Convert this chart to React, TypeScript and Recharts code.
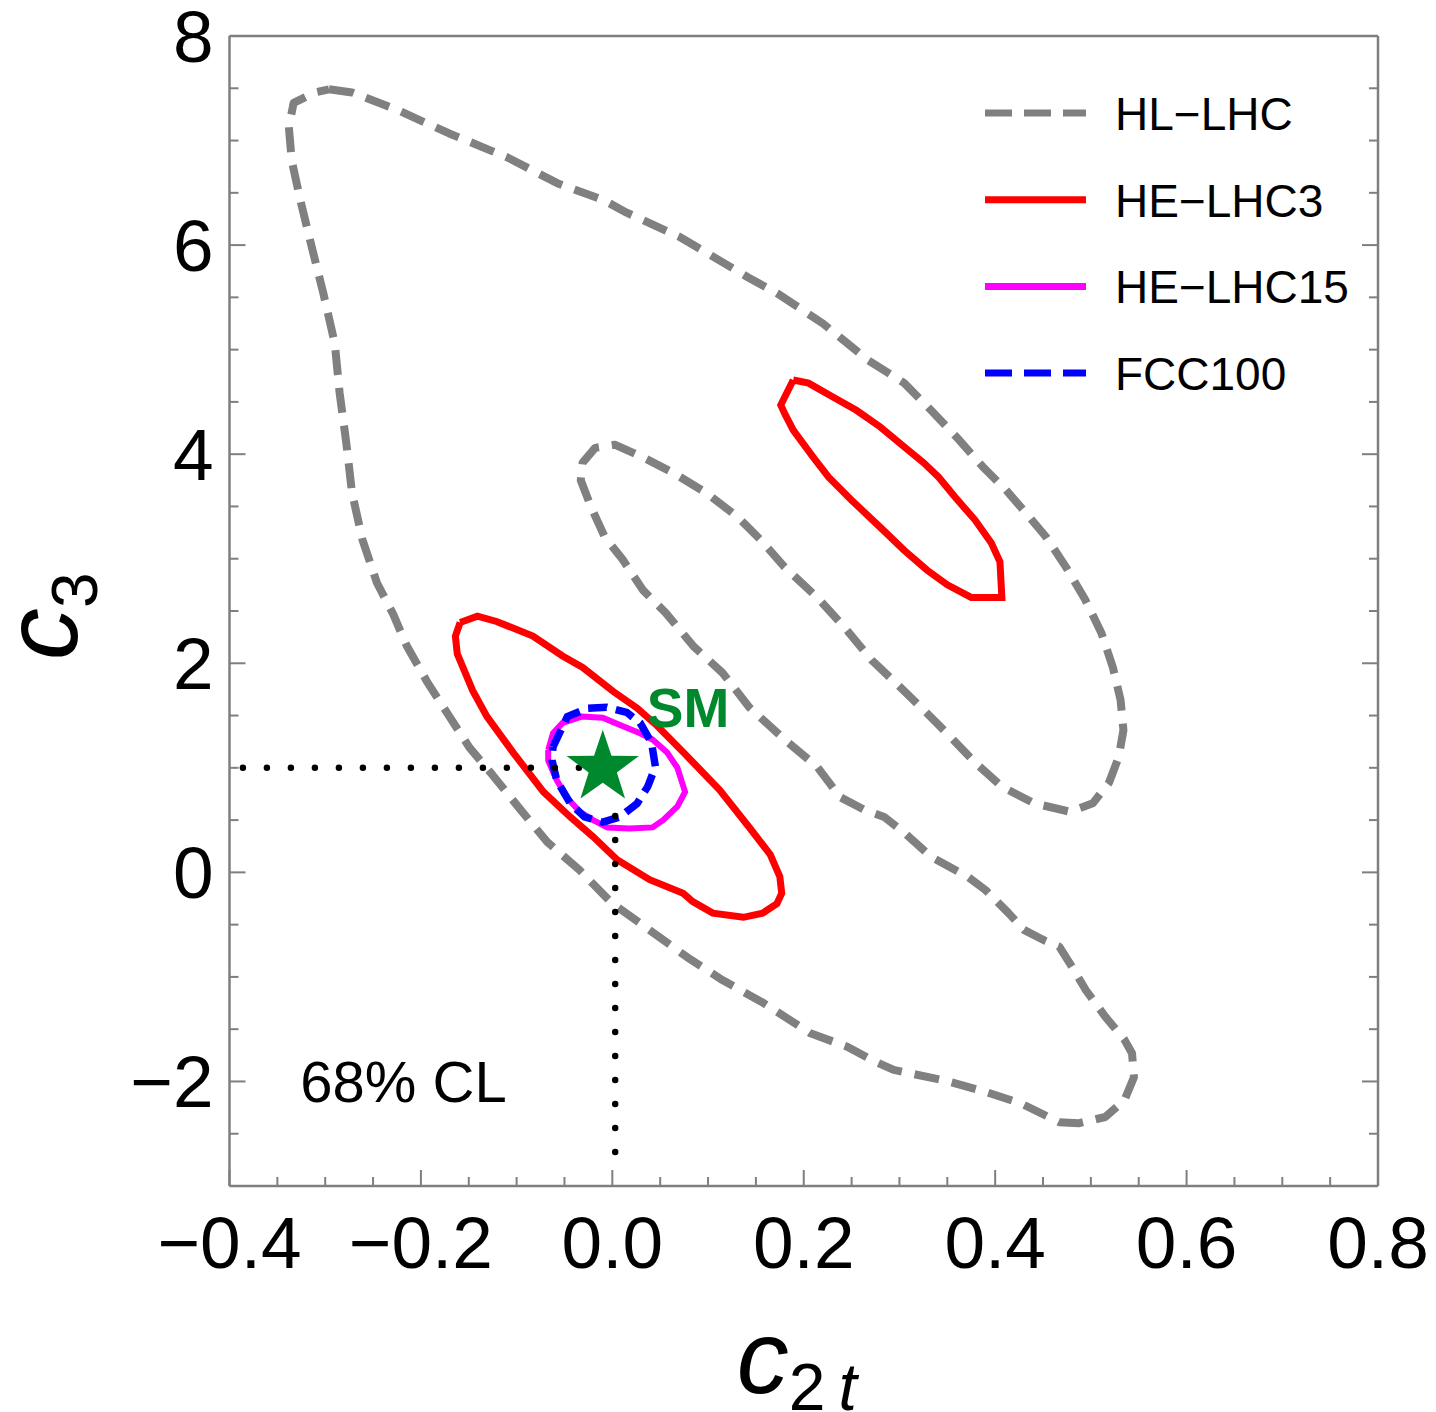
import { ComposedChart, Line, Scatter, XAxis, YAxis, Legend, ReferenceDot, Label } from 'recharts';

const FONT = '"Liberation Sans", Arial, Helvetica, sans-serif';
const FRAME = '#7f7f7f';
const GRAY = '#808080';
const RED = '#ff0000';
const MAGENTA = '#ff00ff';
const BLUE = '#0000ff';
const GREEN = '#00882c';

// axis ticks (labelled majors; minors drawn every 0.05 / 0.5)
const xMajorTicks = [-0.4, -0.2, 0, 0.2, 0.4, 0.6, 0.8];
const yMajorTicks = [-2, 0, 2, 4, 6, 8];
const xTicks = Array.from({ length: 25 }, (_, i) => Math.round((-0.4 + i * 0.05) * 100) / 100);
const yTicks = Array.from({ length: 23 }, (_, i) => -3 + i * 0.5);

// 68% CL contours in the (c2t, c3) plane
const hlLhc: [number, number][] = [
  [-0.296, 7.49], [-0.272, 7.46], [-0.224, 7.29], [-0.171, 7.07], [-0.11, 6.84], [-0.057, 6.59],
  [-0.009, 6.43], [0.015, 6.31], [0.07, 6.08], [0.142, 5.69], [0.172, 5.54], [0.22, 5.25],
  [0.267, 4.9], [0.305, 4.68], [0.333, 4.42], [0.362, 4.14], [0.387, 3.88], [0.411, 3.66],
  [0.432, 3.44], [0.453, 3.21], [0.474, 2.92], [0.494, 2.61], [0.511, 2.29], [0.523, 1.96],
  [0.531, 1.65], [0.534, 1.36], [0.529, 1.1], [0.519, 0.86], [0.502, 0.66], [0.478, 0.58],
  [0.441, 0.66], [0.407, 0.82], [0.379, 1.05], [0.354, 1.29], [0.329, 1.52], [0.301, 1.77],
  [0.271, 2.03], [0.242, 2.35], [0.214, 2.63], [0.18, 2.92], [0.155, 3.18], [0.131, 3.4],
  [0.098, 3.63], [0.064, 3.82], [0.032, 3.97], [0.003, 4.09], [-0.018, 4.06], [-0.031, 3.92],
  [-0.033, 3.75], [-0.022, 3.49], [-0.008, 3.21], [0.011, 2.99], [0.032, 2.7], [0.056, 2.48],
  [0.085, 2.16], [0.115, 1.91], [0.143, 1.58], [0.18, 1.27], [0.214, 1.01], [0.238, 0.72],
  [0.263, 0.6], [0.284, 0.53], [0.305, 0.38], [0.333, 0.15], [0.371, -0.04], [0.39, -0.17],
  [0.414, -0.39], [0.43, -0.55], [0.451, -0.65], [0.467, -0.71], [0.478, -0.87], [0.495, -1.13],
  [0.515, -1.38], [0.535, -1.6], [0.543, -1.73], [0.545, -1.96], [0.535, -2.18], [0.515, -2.34],
  [0.487, -2.4], [0.467, -2.39], [0.427, -2.21], [0.39, -2.1], [0.347, -1.99], [0.294, -1.89],
  [0.27, -1.79], [0.246, -1.67], [0.207, -1.54], [0.158, -1.25], [0.115, -1.03], [0.078, -0.81],
  [0.034, -0.52], [-0.001, -0.29], [-0.034, 0.02], [-0.068, 0.29], [-0.096, 0.6], [-0.125, 0.93],
  [-0.149, 1.19], [-0.173, 1.53], [-0.194, 1.83], [-0.215, 2.17], [-0.229, 2.47], [-0.246, 2.77],
  [-0.261, 3.18], [-0.272, 3.63], [-0.278, 4.11], [-0.285, 4.59], [-0.29, 5.06], [-0.302, 5.54],
  [-0.314, 5.98], [-0.326, 6.43], [-0.335, 6.81], [-0.338, 7.13], [-0.333, 7.36], [-0.311, 7.46],
  [-0.296, 7.49],
];

const heLhc3Low: [number, number][] = [
  [-0.159, 2.39], [-0.141, 2.45], [-0.121, 2.4], [-0.083, 2.26], [-0.052, 2.07], [-0.031, 1.96],
  [0.001, 1.73], [0.026, 1.57], [0.047, 1.4], [0.074, 1.15], [0.112, 0.79], [0.144, 0.42],
  [0.165, 0.17], [0.175, -0.04], [0.177, -0.2], [0.172, -0.3], [0.157, -0.39], [0.137, -0.43],
  [0.105, -0.39], [0.084, -0.28], [0.074, -0.2], [0.039, -0.07], [0.005, 0.12], [-0.02, 0.34],
  [-0.044, 0.53], [-0.072, 0.77], [-0.104, 1.15], [-0.131, 1.49], [-0.146, 1.74], [-0.162, 2.09],
  [-0.164, 2.26], [-0.159, 2.39],
];

const heLhc3High: [number, number][] = [
  [0.189, 4.71], [0.205, 4.68], [0.23, 4.55], [0.255, 4.42], [0.28, 4.26], [0.305, 4.07],
  [0.325, 3.92], [0.341, 3.78], [0.358, 3.59], [0.379, 3.37], [0.396, 3.15], [0.405, 2.97],
  [0.407, 2.63], [0.375, 2.63], [0.35, 2.75], [0.329, 2.89], [0.305, 3.08], [0.28, 3.3],
  [0.25, 3.56], [0.226, 3.78], [0.21, 3.97], [0.189, 4.23], [0.18, 4.39], [0.176, 4.47],
  [0.189, 4.71],
];

const heLhc15: [number, number][] = [
  [-0.067, 1.17], [-0.062, 1.33], [-0.052, 1.43], [-0.032, 1.49], [-0.01, 1.48], [0.008, 1.41],
  [0.029, 1.33], [0.042, 1.27], [0.057, 1.15], [0.068, 1.0], [0.076, 0.77], [0.068, 0.63],
  [0.053, 0.5], [0.042, 0.43], [0.018, 0.42], [-0.005, 0.43], [-0.02, 0.5], [-0.034, 0.58],
  [-0.047, 0.71], [-0.058, 0.88], [-0.067, 1.07], [-0.067, 1.17],
];

const fcc100: [number, number][] = [
  [-0.062, 1.2], [-0.047, 1.49], [-0.026, 1.57], [-0.006, 1.58], [0.015, 1.53], [0.029, 1.43],
  [0.041, 1.24], [0.045, 1.01], [0.037, 0.82], [0.026, 0.66], [0.008, 0.53], [-0.01, 0.48],
  [-0.029, 0.53], [-0.044, 0.66], [-0.058, 0.88], [-0.063, 1.07], [-0.062, 1.2],
];

// Standard Model point and the dotted guides to the axes
const smPoint: [number, number][] = [[-0.01, 1.0]];
const guideH: [number, number][] = [[-0.386, 1.0], [-0.01, 1.0]];
const guideV: [number, number][] = [[0.003, 0.54], [0.003, -2.68]];

const toRows = (pts: [number, number][]) => pts.map(([x, y]) => ({ x, y }));
const heLhc3Rows = [...toRows(heLhc3Low), { x: 0.2, y: null }, ...toRows(heLhc3High)];

const legendItems = [
  { name: 'HL−LHC', color: GRAY, dash: '27 12' },
  { name: 'HE−LHC3', color: RED, dash: undefined },
  { name: 'HE−LHC15', color: MAGENTA, dash: undefined },
  { name: 'FCC100', color: BLUE, dash: '27 12' },
];

const isMajor = (v: number, majors: number[]) => majors.some((m) => Math.abs(m - v) < 1e-6);
const fmtX = (v: number) => v.toFixed(1).replace('-', '\u2212');
const fmtY = (v: number) => String(v).replace('-', '\u2212');

type Side = 'bottom' | 'top' | 'left' | 'right';

const renderTick = (side: Side) => (props: any) => {
  const { x, y, payload } = props;
  const v = payload.value as number;
  const horizontal = side === 'bottom' || side === 'top';
  const major = isMajor(v, horizontal ? xMajorTicks : yMajorTicks);
  const len = major ? 16 : 9;
  let coords;
  if (side === 'bottom') coords = { x1: x, x2: x, y1: y, y2: y - len };
  else if (side === 'top') coords = { x1: x, x2: x, y1: y, y2: y + len };
  else if (side === 'left') coords = { x1: x, x2: x + len, y1: y, y2: y };
  else coords = { x1: x, x2: x - len, y1: y, y2: y };
  return (
    <g>
      <line {...coords} stroke={FRAME} strokeWidth={2} />
      {major && side === 'bottom' && (
        <text x={x} y={y + 82} textAnchor="middle" fontSize={73} fontFamily={FONT} fill="#000">
          {fmtX(v)}
        </text>
      )}
      {major && side === 'left' && (
        <text x={x - 16} y={y + 26} textAnchor="end" fontSize={73} fontFamily={FONT} fill="#000">
          {fmtY(v)}
        </text>
      )}
    </g>
  );
};

const XTitle = (props: any) => {
  const { x, y, width } = props.viewBox;
  return (
    <text x={x + width / 2 - 67} y={y + 207} fontFamily={FONT} fill="#000">
      <tspan fontSize={104} fontStyle="italic">c</tspan>
      <tspan fontSize={66} dy={17}>2</tspan>
      <tspan fontSize={66} fontStyle="italic" dx={13}>t</tspan>
    </text>
  );
};

const YTitle = (props: any) => {
  const { y } = props.viewBox;
  const tx = 69;
  const ty = y + 624;
  return (
    <text x={tx} y={ty} transform={`rotate(-90 ${tx} ${ty})`} fontFamily={FONT} fill="#000">
      <tspan fontSize={104} fontStyle="italic">c</tspan>
      <tspan fontSize={64} dy={20}>3</tspan>
    </text>
  );
};

const StarShape = (props: any) => {
  const { cx, cy } = props;
  const R = 38;
  const r = R * 0.39;
  const pts = Array.from({ length: 10 }, (_, i) => {
    const a = ((-90 + i * 36) * Math.PI) / 180;
    const rad = i % 2 === 0 ? R : r;
    return `${cx + rad * Math.cos(a)},${cy + rad * Math.sin(a)}`;
  }).join(' ');
  return (
    <g>
      <polygon points={pts} fill={GREEN} />
      <text x={cx + 44} y={cy - 41} fontSize={55} fontWeight="bold" fontFamily={FONT} fill={GREEN}>
        SM
      </text>
    </g>
  );
};

const CLText = (props: any) => (
  <text x={props.cx} y={props.cy + 21} fontSize={58} fontFamily={FONT} fill="#000">
    68% CL
  </text>
);

const renderLegend = () => (
  <svg width={420} height={330}>
    {legendItems.map((item, i) => {
      const cy = 22 + i * 86.7;
      return (
        <g key={item.name}>
          <line x1={0} x2={101} y1={cy} y2={cy} stroke={item.color} strokeWidth={7} strokeDasharray={item.dash} />
          <text x={130} y={cy + 17} fontSize={46} fontFamily={FONT} fill="#000">
            {item.name}
          </text>
        </g>
      );
    })}
  </svg>
);

export default function App() {
  return (
    <ComposedChart width={1420} height={1404} margin={{ top: 27, right: 49, bottom: 0, left: 0 }}>
      <XAxis
        type="number"
        dataKey="x"
        domain={[-0.4, 0.8]}
        ticks={xTicks}
        interval={0}
        allowDataOverflow
        height={226}
        tickSize={0}
        tickMargin={0}
        tickLine={false}
        axisLine={{ stroke: FRAME, strokeWidth: 2.5 }}
        tick={renderTick('bottom')}
      >
        <Label content={XTitle} />
      </XAxis>
      <XAxis
        xAxisId="top"
        orientation="top"
        type="number"
        domain={[-0.4, 0.8]}
        ticks={xTicks}
        interval={0}
        allowDataOverflow
        height={1}
        tickSize={0}
        tickMargin={0}
        tickLine={false}
        axisLine={{ stroke: FRAME, strokeWidth: 2.5 }}
        tick={renderTick('top')}
      />
      <YAxis
        type="number"
        dataKey="y"
        domain={[-3, 8]}
        ticks={yTicks}
        interval={0}
        allowDataOverflow
        width={221.5}
        tickSize={0}
        tickMargin={0}
        tickLine={false}
        axisLine={{ stroke: FRAME, strokeWidth: 2.5 }}
        tick={renderTick('left')}
      >
        <Label content={YTitle} />
      </YAxis>
      <YAxis
        yAxisId="right"
        orientation="right"
        type="number"
        domain={[-3, 8]}
        ticks={yTicks}
        interval={0}
        allowDataOverflow
        width={1}
        tickSize={0}
        tickMargin={0}
        tickLine={false}
        axisLine={{ stroke: FRAME, strokeWidth: 2.5 }}
        tick={renderTick('right')}
      />

      <Line data={toRows(hlLhc)} dataKey="y" name="HL−LHC" type="linear" stroke={GRAY} strokeWidth={8}
        strokeDasharray="25 13" strokeLinejoin="round" dot={false} activeDot={false} isAnimationActive={false} />
      <Line data={heLhc3Rows} dataKey="y" name="HE−LHC3" type="linear" stroke={RED} strokeWidth={7}
        dot={false} activeDot={false} connectNulls={false} isAnimationActive={false} />
      <Line data={toRows(heLhc15)} dataKey="y" name="HE−LHC15" type="linear" stroke={MAGENTA} strokeWidth={6}
        dot={false} activeDot={false} isAnimationActive={false} />
      <Line data={toRows(fcc100)} dataKey="y" name="FCC100" type="linear" stroke={BLUE} strokeWidth={7.5}
        strokeDasharray="19 9" dot={false} activeDot={false} isAnimationActive={false} />

      <Scatter data={toRows(smPoint)} dataKey="y" shape={StarShape} legendType="none" isAnimationActive={false} />

      <Line data={toRows(guideH)} dataKey="y" type="linear" stroke="#000" strokeWidth={6.5} strokeLinecap="round"
        strokeDasharray="0 24" dot={false} activeDot={false} legendType="none" isAnimationActive={false} />
      <Line data={toRows(guideV)} dataKey="y" type="linear" stroke="#000" strokeWidth={6.5} strokeLinecap="round"
        strokeDasharray="0 24" dot={false} activeDot={false} legendType="none" isAnimationActive={false} />

      <ReferenceDot x={-0.326} y={-2} r={0} shape={CLText} />

      <Legend
        layout="vertical"
        align="center"
        verticalAlign="middle"
        width={420}
        height={330}
        wrapperStyle={{ left: 977, top: 83 }}
        content={renderLegend}
      />
    </ComposedChart>
  );
}
